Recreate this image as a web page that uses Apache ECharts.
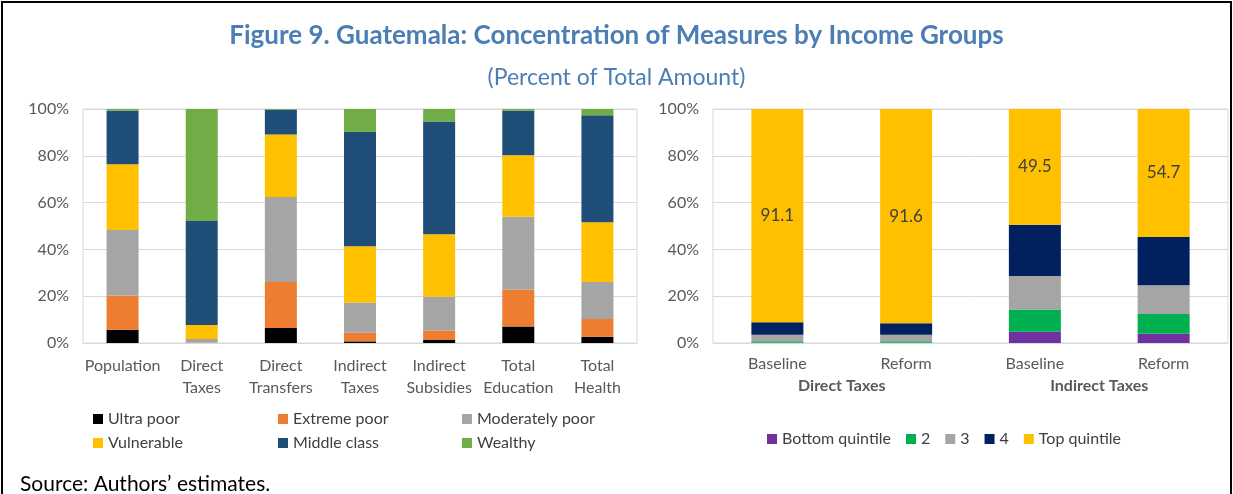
<!DOCTYPE html>
<html lang="en">
<head>
    <meta charset="UTF-8">
    <title>Figure 9. Guatemala</title>
    <style>
        html, body { margin: 0; padding: 0; background: #fff; }
        #main { width: 1233px; height: 494px; }
    </style>
</head>
<body>
    <div id="main"></div>
    <script src="https://cdn.jsdelivr.net/npm/echarts@6/dist/echarts.min.js"></script>
    <script type="text/javascript">
        // left panel: share of each measure by income group
        var measures = ['Population', 'Direct\nTaxes', 'Direct\nTransfers', 'Indirect\nTaxes', 'Indirect\nSubsidies', 'Total\nEducation', 'Total\nHealth'];
        var ultraPoor      = [5.7, 0.0, 6.4, 0.7, 1.3, 7.0, 2.7];
        var extremePoor    = [14.6, 0.2, 19.7, 3.7, 4.0, 15.9, 7.6];
        var moderatelyPoor = [28.0, 1.5, 36.3, 12.9, 14.5, 31.1, 15.8];
        var vulnerable     = [28.1, 6.0, 26.7, 24.0, 26.7, 26.2, 25.5];
        var middleClass    = [22.8, 44.4, 10.6, 48.9, 48.2, 19.0, 45.7];
        var wealthy        = [0.8, 47.9, 0.3, 9.8, 5.3, 0.8, 2.7];

        // right panel: quintile shares, baseline vs reform
        var scenarios = ['Baseline', 'Reform', 'Baseline', 'Reform'];
        var taxGroups = ['Direct Taxes', 'Indirect Taxes'];
        var bottomQuintile = [0.1, 0.1, 4.8, 3.9];
        var quintile2      = [0.6, 0.6, 9.5, 8.5];
        var quintile3      = [2.8, 2.8, 14.3, 12.3];
        var quintile4      = [5.4, 4.9, 21.9, 20.6];
        var topQuintile    = [91.1, 91.6, 49.5, 54.7];

        var yTicks = { min: 0, max: 100, interval: 20 };

        var font = 'Lato, "Open Sans", sans-serif';
        var grey = '#595959';
        var gridLine = '#d9d9d9';

        var myChart = echarts.init(document.getElementById('main'));

        function leftBar(name, data, color) {
            return {
                name: name, type: 'bar', stack: 'groups',
                xAxisIndex: 0, yAxisIndex: 0,
                barWidth: 32,
                itemStyle: { color: color },
                data: data
            };
        }
        function rightBar(name, data, color, label) {
            return {
                name: name, type: 'bar', stack: 'quint',
                xAxisIndex: 1, yAxisIndex: 1,
                barWidth: 52,
                itemStyle: { color: color },
                label: label ? {
                    show: true, position: 'inside', color: '#404040',
                    fontFamily: font, fontSize: 17, formatter: '{c}'
                } : { show: false },
                data: data
            };
        }

        var yAxisStyle = {
            type: 'value',
            min: yTicks.min, max: yTicks.max, interval: yTicks.interval,
            axisLine: { show: false },
            axisTick: { show: false },
            splitLine: { lineStyle: { color: gridLine, width: 1 } },
            axisLabel: { formatter: '{value}%', color: grey, fontSize: 16, fontFamily: font, margin: 14 }
        };

        var legendText = { color: '#404040', fontSize: 16, fontFamily: font, lineHeight: 18 };

        // one legend per column so the columns line up like the original
        function leftLegend(names, x) {
            return {
                data: names, orient: 'vertical',
                left: x, top: 405,
                icon: 'rect', itemWidth: 10, itemHeight: 10, itemGap: 6,
                textStyle: legendText
            };
        }

        var option = {
            animation: false,
            textStyle: { fontFamily: font },
            title: [{
                text: 'Figure 9. Guatemala: Concentration of Measures by Income Groups',
                left: 'center', top: 18,
                textStyle: { color: '#4a7eb4', fontSize: 26, fontWeight: 'bold', fontFamily: font }
            }, {
                text: '(Percent of Total Amount)',
                left: 'center', top: 61,
                textStyle: { color: '#4a7eb4', fontSize: 23, fontWeight: 'normal', fontFamily: font }
            }, {
                text: 'Source: Authors\u2019 estimates.',
                left: 15, top: 469,
                textStyle: { color: '#000', fontSize: 21, fontWeight: 'normal', fontFamily: font }
            }],
            legend: [
                leftLegend(['Ultra poor', 'Vulnerable'], 88),
                leftLegend(['Extreme poor', 'Middle class'], 273),
                leftLegend(['Moderately poor', 'Wealthy'], 457),
                {
                    data: ['Bottom quintile', '2', '3', '4', 'Top quintile'],
                    left: 762, top: 425,
                    icon: 'rect', itemWidth: 10, itemHeight: 10, itemGap: 15,
                    textStyle: legendText
                }
            ],
            grid: [{
                left: 83, right: 596, top: 109, bottom: 151,
                show: true, borderColor: gridLine, borderWidth: 1
            }, {
                left: 713, right: 5, top: 109, bottom: 151,
                show: true, borderColor: gridLine, borderWidth: 1
            }],
            xAxis: [{
                type: 'category', gridIndex: 0, data: measures,
                axisLine: { lineStyle: { color: gridLine } },
                axisTick: { show: false },
                axisLabel: { color: grey, fontSize: 16, fontFamily: font, lineHeight: 22, margin: 12, interval: 0 }
            }, {
                type: 'category', gridIndex: 1, data: scenarios,
                axisLine: { lineStyle: { color: gridLine } },
                axisTick: { show: false },
                axisLabel: { color: grey, fontSize: 16, fontFamily: font, margin: 13, interval: 0 }
            }, {
                type: 'category', gridIndex: 1, data: taxGroups, position: 'bottom', offset: 22,
                axisLine: { show: false },
                axisTick: { show: false },
                axisLabel: { color: grey, fontSize: 16, fontWeight: 'bold', fontFamily: font, margin: 13, interval: 0 }
            }],
            yAxis: [
                Object.assign({ gridIndex: 0 }, yAxisStyle),
                Object.assign({ gridIndex: 1 }, yAxisStyle)
            ],
            series: [
                leftBar('Ultra poor', ultraPoor, '#000000'),
                leftBar('Extreme poor', extremePoor, '#ed7d31'),
                leftBar('Moderately poor', moderatelyPoor, '#a5a5a5'),
                leftBar('Vulnerable', vulnerable, '#ffc000'),
                leftBar('Middle class', middleClass, '#1f4e79'),
                leftBar('Wealthy', wealthy, '#70ad47'),
                rightBar('Bottom quintile', bottomQuintile, '#7030a0'),
                rightBar('2', quintile2, '#00b050'),
                rightBar('3', quintile3, '#a5a5a5'),
                rightBar('4', quintile4, '#002060'),
                rightBar('Top quintile', topQuintile, '#ffc000', true)
            ],
            graphic: [{
                // frame round the figure
                type: 'rect',
                shape: { x: 2, y: 2, width: 1229, height: 520 },
                style: { fill: 'none', stroke: '#000', lineWidth: 2 },
                silent: true
            }]
        };

        myChart.setOption(option);
    </script>
</body>
</html>
